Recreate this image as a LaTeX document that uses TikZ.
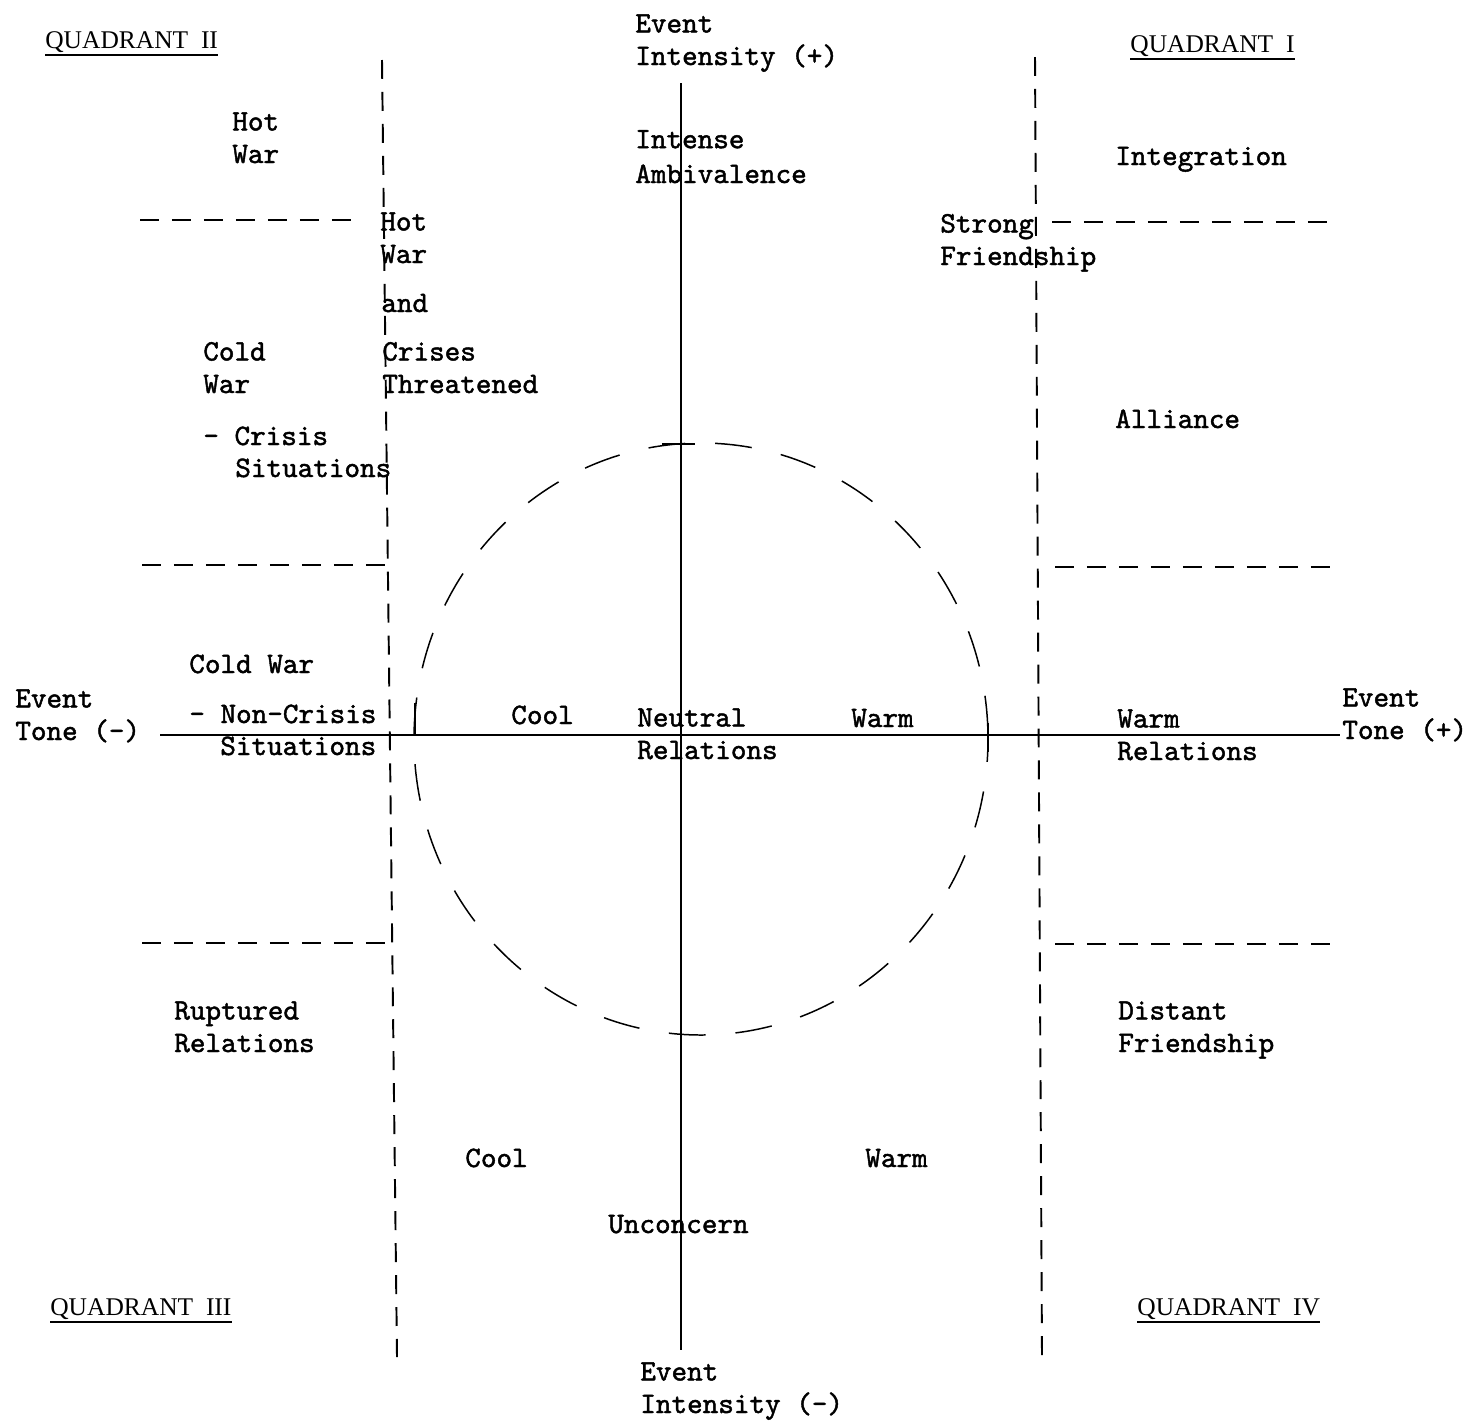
\documentclass[tikz,border=0pt]{standalone}
\usepackage{fontspec}
\newfontfamily\tw{lmmono10-regular.otf}[FakeBold=1.5]
\newfontfamily\qf{Liberation Serif}
\begin{document}
\begin{tikzpicture}[x=0.02cm,y=-0.02cm,
  lbl/.style={font=\tw\fontsize{16.9}{18.5}\selectfont, inner sep=0pt, anchor=base west, align=left},
  quad/.style={font=\qf\fontsize{14.5}{17}\selectfont, inner sep=0pt, anchor=base west},
  uline/.style={line width=0.9pt},
  axis/.style={line width=1.1pt},
  divider/.style={line width=1.1pt, dash pattern=on 10.8pt off 7.4pt},
  ring/.style={line width=0.85pt, dash pattern=on 21pt off 17pt, dash phase=8pt},
  tick/.style={line width=0.8pt}]
\useasboundingbox (0,0) rectangle (1467,1427);

% axes
\coordinate (ytop) at (681,83);
\coordinate (ybot) at (681,1350);
\coordinate (xleft) at (160,735);
\coordinate (xright) at (1340,735);
\draw[axis] (ytop) -- (ybot);
\draw[axis] (xleft) -- (xright);

% vertical dividers
\draw[divider] (382,60) -- (397,1357);
\draw[divider] (1035,57) -- (1042,1357);

% horizontal dividers, left side
\draw[divider] (140,220) -- (356,220);
\draw[divider] (142,565) -- (387,565);
\draw[divider] (142,943) -- (387,943);
% horizontal dividers, right side
\draw[divider] (1052,222) -- (1330,222);
\draw[divider] (1055,567) -- (1332,567);
\draw[divider] (1055,944) -- (1332,944);

% central circle and its ticks
\draw[ring] (701,739) ellipse [x radius=287, y radius=296];
\draw[tick] (662,444) -- (695,444);
\draw[tick] (988,723) -- (988,752);
\draw[tick] (415,703) -- (415,735);

% quadrant headings
\node[quad] (q2) at (45,48) {QUADRANT\ \ II};
\node[quad] (q1) at (1130,52) {QUADRANT\ \ I};
\node[quad] (q3) at (50,1315) {QUADRANT\ \ III};
\node[quad] (q4) at (1137,1315) {QUADRANT\ \ IV};
\draw[uline] ([yshift=-4pt]q2.base west) -- ([yshift=-4pt]q2.base east);
\draw[uline] ([yshift=-4pt]q1.base west) -- ([yshift=-4pt]q1.base east);
\draw[uline] ([yshift=-4pt]q3.base west) -- ([yshift=-4pt]q3.base east);
\draw[uline] ([yshift=-4pt]q4.base west) -- ([yshift=-4pt]q4.base east);

% axis labels (multi-line nodes sit on the baseline of their last line)
\node[lbl] (eiplus) at (635,65) {Event\\Intensity (+)};
\node[lbl] (eiminus) at (640,1413) {Event\\Intensity (-)};
\node[lbl] (etminus) at (15,740) {Event\\Tone (-)};
\node[lbl] (etplus) at (1342,739) {Event\\Tone (+)};

% quadrant II
\node[lbl] (hotwar) at (232,163) {Hot\\War};
\node[lbl] (hotwar2) at (380,263) {Hot\\War};
\node[lbl] (and) at (381,312) {and};
\node[lbl] (crises) at (382,393) {Crises\\Threatened};
\node[lbl] (coldwar) at (203,393) {Cold\\War};
\node[lbl] (crisis) at (203,445) {- Crisis};
\node[lbl] (situ1) at (235,477) {Situations};
\node[lbl] (coldwar2) at (189,673) {Cold War};
\node[lbl] (noncrisis) at (189,723) {- Non-Crisis};
\node[lbl] (situ2) at (220,755) {Situations};

% upper centre
\node[lbl, font=\tw\fontsize{16.9}{19.8}\selectfont] (intense) at (635,183) {Intense\\Ambivalence};

% quadrant I
\node[lbl] (integration) at (1115,165) {Integration};
\node[lbl] (strong) at (940,265) {Strong\\Friendship};
\node[lbl] (alliance) at (1115,428) {Alliance};
\node[lbl] (warmrel) at (1117,760) {Warm\\Relations};

% circle interior
\node[lbl] (cool1) at (511,724) {Cool};
\node[lbl] (neutral) at (637,759) {Neutral\\Relations};
\node[lbl] (warm1) at (851,727) {Warm};

% lower quadrants
\node[lbl] (ruptured) at (174,1052) {Ruptured\\Relations};
\node[lbl] (distant) at (1118,1052) {Distant\\Friendship};
\node[lbl] (cool2) at (465,1167) {Cool};
\node[lbl] (warm2) at (865,1167) {Warm};
\node[lbl] (unconcern) at (608,1233) {Unconcern};
\end{tikzpicture}
\end{document}
